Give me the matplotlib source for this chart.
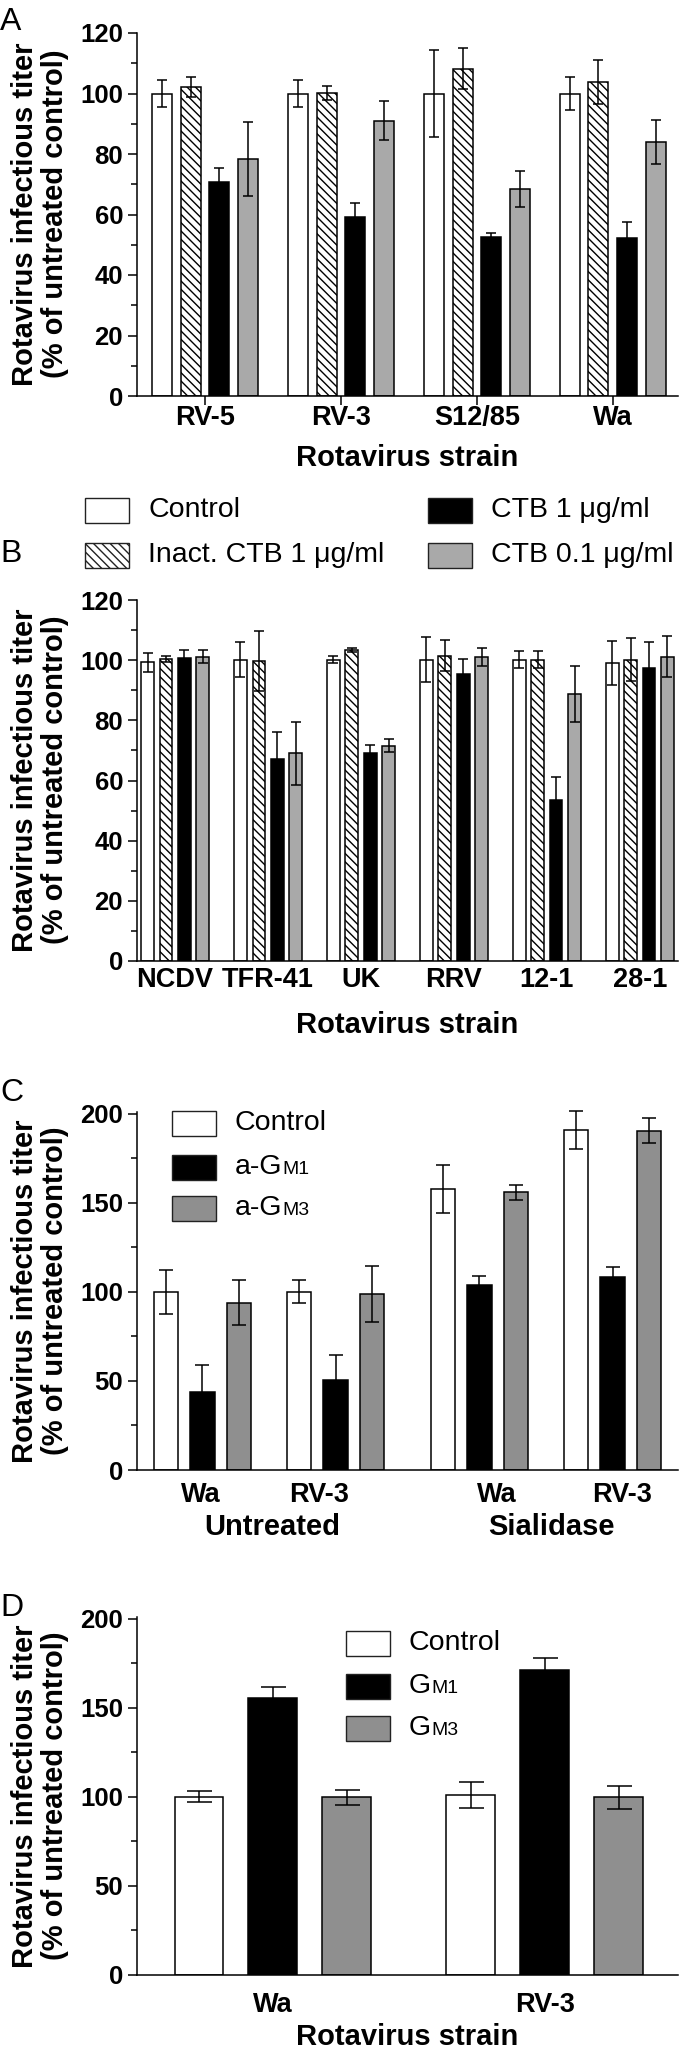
import numpy as np
import matplotlib
matplotlib.use('Agg')
import matplotlib.pyplot as plt
from matplotlib.patches import Rectangle
from matplotlib.ticker import MultipleLocator

plt.rcParams['font.family'] = ['Liberation Sans', 'DejaVu Sans']
plt.rcParams['hatch.linewidth'] = 1.0

# ---- data ----
# panel A
strains_a = ['RV-5', 'RV-3', 'S12/85', 'Wa']
a_control = [100, 100, 100, 100]
a_control_err = [4.5, 4.4, 14.3, 5.5]
a_inact = [102.3, 100.1, 108.2, 103.9]
a_inact_err = [3.3, 2.4, 6.7, 7.3]
a_ctb1 = [70.8, 59.3, 52.7, 52.3]
a_ctb1_err = [4.6, 4.6, 1.3, 5.2]
a_ctb01 = [78.4, 91.0, 68.5, 84.0]
a_ctb01_err = [12.2, 6.5, 6.0, 7.3]

# panel B
strains_b = ['NCDV', 'TFR-41', 'UK', 'RRV', '12-1', '28-1']
b_control = [99.3, 100.2, 100.1, 100.2, 100.2, 99.1]
b_control_err = [3.2, 5.8, 1.2, 7.4, 2.9, 7.3]
b_inact = [100.3, 99.7, 103.3, 101.5, 100.2, 100.2]
b_inact_err = [1.0, 10.0, 0.6, 5.2, 2.9, 7.1]
b_ctb1 = [100.6, 67.3, 69.1, 95.5, 53.5, 97.4]
b_ctb1_err = [2.8, 8.8, 2.8, 4.8, 7.7, 8.5]
b_ctb01 = [101.2, 69.1, 71.6, 101.0, 88.8, 101.1]
b_ctb01_err = [2.3, 10.5, 2.2, 2.9, 9.3, 6.8]

# panel C
strains_c = ['Wa', 'RV-3', 'Wa', 'RV-3']
treatments_c = ['Untreated', 'Sialidase']
c_control = [100, 100, 158, 191]
c_control_err = [12.2, 6.5, 13.5, 10.6]
c_agm1 = [43.8, 50.6, 103.7, 108.6]
c_agm1_err = [15.0, 14.0, 5.4, 5.2]
c_agm3 = [94, 99, 156, 190.6]
c_agm3_err = [12.5, 15.8, 4.2, 7.2]

# panel D
strains_d = ['Wa', 'RV-3']
d_control = [100.1, 101.0]
d_control_err = [3.0, 7.4]
d_gm1 = [155.3, 171.1]
d_gm1_err = [6.6, 6.7]
d_gm3 = [99.7, 99.7]
d_gm3_err = [4.3, 6.6]

GRAY_AB = '#a9a9a9'
GRAY_CD = '#8f8f8f'
W, H = 680, 2050

fig = plt.figure(figsize=(6.8, 20.5), dpi=100)


def px_axes(left, top, right, bottom):
    return fig.add_axes([left / W, 1 - bottom / H, (right - left) / W, (bottom - top) / H])


def ftext(x, y, s, **kw):
    return fig.text(x / W, 1 - y / H, s, **kw)


def bars(ax, x, vals, errs, color, width, cap, hatch=None):
    ax.bar(x, vals, width, color=color, edgecolor='black', linewidth=1.1,
           hatch=hatch, zorder=2)
    ax.errorbar(x, vals, yerr=errs, fmt='none', ecolor='black', elinewidth=1.1,
                capsize=cap, capthick=1.1, zorder=3, clip_on=False)


def style(ax, ymax, major, minor):
    for s in ['top', 'right']:
        ax.spines[s].set_visible(False)
    for s in ['left', 'bottom']:
        ax.spines[s].set_linewidth(1.1)
    ax.set_ylim(0, ymax)
    ax.yaxis.set_major_locator(MultipleLocator(major))
    ax.yaxis.set_minor_locator(MultipleLocator(minor))
    ax.tick_params(axis='y', which='major', length=6.5, width=1.1, labelsize=18.5, pad=3.5)
    ax.tick_params(axis='y', which='minor', length=4, width=1.1)
    for lab in ax.get_yticklabels():
        lab.set_fontweight('bold')


def legend_box(ax, x, y, color, label, hatch=None, sub=None):
    # legend swatch + label, positioned in figure pixels
    r = Rectangle((x / W, 1 - (y + 12.5) / H), 44 / W, 25 / H, transform=fig.transFigure,
                  facecolor=color, edgecolor='#222222', linewidth=1.0, hatch=hatch)
    fig.add_artist(r)
    t = ftext(x + 63, y, label, fontsize=20.5, va='center', ha='left')
    if sub:
        # small-caps style "M1"/"M3" after the G
        ax.annotate(sub, xy=(1, 0), xycoords=t, xytext=(0, 1.5), textcoords='offset points',
                    fontsize=14, va='bottom', ha='left', annotation_clip=False)


ylab = 'Rotavirus infectious titer\n(% of untreated control)'

# ---- panel A ----
ax = px_axes(137, 33, 678, 396)
xa = np.arange(len(strains_a))
bw, step = 0.147, 0.21
bars(ax, xa - 1.5 * step, a_control, a_control_err, 'white', bw, 3.6)
bars(ax, xa - 0.5 * step, a_inact, a_inact_err, 'white', bw, 3.6, hatch='\\\\\\\\')
bars(ax, xa + 0.5 * step, a_ctb1, a_ctb1_err, 'black', bw, 3.6)
bars(ax, xa + 1.5 * step, a_ctb01, a_ctb01_err, GRAY_AB, bw, 3.6)
ax.set_xlim(-0.5, 3.48)
style(ax, 120, 20, 10)
ax.set_xticks(xa)
ax.set_xticklabels(strains_a, fontsize=19.5, fontweight='bold')
ax.tick_params(axis='x', length=6.5, width=1.1, pad=0)
ftext(40, 214, ylab, rotation=90, ha='center', va='center', fontsize=21,
      fontweight='bold', linespacing=1.05)
ftext(407, 458, 'Rotavirus strain', ha='center', va='center', fontsize=21, fontweight='bold')
ftext(0, 7, 'A', fontsize=23, va='top', ha='left')
ax_a = ax

# shared legend A/B
legend_box(ax_a, 85, 510, 'white', 'Control')
legend_box(ax_a, 85, 555, 'white', 'Inact. CTB 1 μg/ml', hatch='\\\\\\\\')
legend_box(ax_a, 428, 510, 'black', 'CTB 1 μg/ml')
legend_box(ax_a, 428, 555, GRAY_AB, 'CTB 0.1 μg/ml')
ftext(0, 539, 'B', fontsize=23, va='top', ha='left')

# ---- panel B ----
ax = px_axes(137, 600, 678, 961)
xb = np.arange(len(strains_b))
bw, step = 0.136, 0.198
bars(ax, xb - 1.5 * step, b_control, b_control_err, 'white', bw, 3.6)
bars(ax, xb - 0.5 * step, b_inact, b_inact_err, 'white', bw, 3.6, hatch='\\\\\\\\')
bars(ax, xb + 0.5 * step, b_ctb1, b_ctb1_err, 'black', bw, 3.6)
bars(ax, xb + 1.5 * step, b_ctb01, b_ctb01_err, GRAY_AB, bw, 3.6)
ax.set_xlim(-0.41, 5.41)
style(ax, 120, 20, 10)
ax.set_xticks(xb)
ax.set_xticklabels(strains_b, fontsize=19.5, fontweight='bold')
ax.tick_params(axis='x', length=0, pad=4)
ftext(40, 780, ylab, rotation=90, ha='center', va='center', fontsize=21,
      fontweight='bold', linespacing=1.05)
ftext(407, 1025, 'Rotavirus strain', ha='center', va='center', fontsize=21, fontweight='bold')

# ---- panel C ----
ax = px_axes(137, 1112, 678, 1470)
xc = np.concatenate([np.arange(2), np.arange(2) + 2.08])
bw, step = 0.184, 0.274
bars(ax, xc - step, c_control, c_control_err, 'white', bw, 4.8)
bars(ax, xc, c_agm1, c_agm1_err, 'black', bw, 4.8)
bars(ax, xc + step, c_agm3, c_agm3_err, GRAY_CD, bw, 4.8)
ax.set_xlim(-0.49, 3.57)
style(ax, 201, 50, 25)
ax.set_xticks([-0.01, 0.88, 2.21, 3.15])
ax.set_xticklabels(strains_c, fontsize=19.5, fontweight='bold')
ax.tick_params(axis='x', length=0, pad=9)
ftext(40, 1291, ylab, rotation=90, ha='center', va='center', fontsize=21,
      fontweight='bold', linespacing=1.05)
ftext(272, 1527, treatments_c[0], ha='center', va='center', fontsize=21, fontweight='bold')
ftext(551, 1527, treatments_c[1], ha='center', va='center', fontsize=21, fontweight='bold')
ftext(0, 1078, 'C', fontsize=23, va='top', ha='left')
legend_box(ax, 172, 1123, 'white', 'Control')
legend_box(ax, 172, 1167, 'black', 'a-G', sub='M1')
legend_box(ax, 172, 1208, GRAY_CD, 'a-G', sub='M3')

# ---- panel D ----
ax = px_axes(137, 1617, 678, 1975)
xd = np.arange(len(strains_d))
bw, step = 0.18, 0.272
bars(ax, xd - step, d_control, d_control_err, 'white', bw, 9)
bars(ax, xd, d_gm1, d_gm1_err, 'black', bw, 9)
bars(ax, xd + step, d_gm3, d_gm3_err, GRAY_CD, bw, 9)
ax.set_xlim(-0.5, 1.49)
style(ax, 201, 50, 25)
ax.set_xticks(xd)
ax.set_xticklabels(strains_d, fontsize=19.5, fontweight='bold')
ax.tick_params(axis='x', length=0, pad=12)
ftext(40, 1796, ylab, rotation=90, ha='center', va='center', fontsize=21,
      fontweight='bold', linespacing=1.05)
ftext(407, 2037, 'Rotavirus strain', ha='center', va='center', fontsize=21, fontweight='bold')
ftext(0, 1593, 'D', fontsize=23, va='top', ha='left')
legend_box(ax, 346, 1643, 'white', 'Control')
legend_box(ax, 346, 1686, 'black', 'G', sub='M1')
legend_box(ax, 346, 1728, GRAY_CD, 'G', sub='M3')

fig.savefig('out.png', dpi=100)
